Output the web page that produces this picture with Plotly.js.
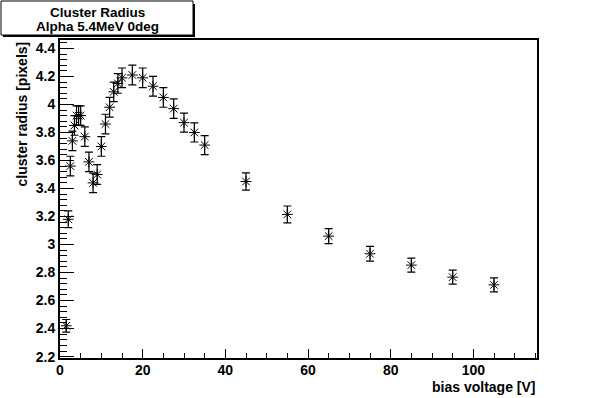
<!DOCTYPE html>
<html>
<head>
<meta charset="utf-8">
<script src="https://cdn.plot.ly/plotly-3.0.1.min.js"></script>
<style>html,body{margin:0;padding:0;background:#fff;}#chart{width:597px;height:398px;}</style>
</head>
<body>
<div id="chart"></div>
<script>
// bias voltage [V]
const biasVoltage = [1.5, 2, 2.5, 3, 3.5, 4, 4.5, 5, 6, 7, 8, 9, 10, 11, 12, 13, 14, 15, 17.5, 20, 22.5, 25, 27.5, 30, 32.5, 35, 45, 55, 65, 75, 85, 95, 105];
// cluster radius [pixels]
const clusterRadius = [2.42, 3.18, 3.56, 3.74, 3.85, 3.92, 3.92, 3.92, 3.77, 3.59, 3.44, 3.50, 3.70, 3.86, 3.98, 4.09, 4.15, 4.19, 4.21, 4.19, 4.13, 4.05, 3.97, 3.87, 3.80, 3.71, 3.45, 3.215, 3.06, 2.934, 2.853, 2.767, 2.712];
const radiusError = [0.045, 0.06, 0.07, 0.07, 0.07, 0.07, 0.07, 0.07, 0.07, 0.07, 0.07, 0.07, 0.07, 0.07, 0.07, 0.07, 0.07, 0.07, 0.07, 0.07, 0.07, 0.07, 0.07, 0.068, 0.068, 0.068, 0.062, 0.06, 0.053, 0.053, 0.05, 0.05, 0.05];
const titleLines = ["Cluster Radius", "Alpha 5.4MeV 0deg"];
const xTitle = "bias voltage [V]";
const yTitle = "cluster radius [pixels]";
const xTicks = [0, 20, 40, 60, 80, 100];
const yTicks = [2.2, 2.4, 2.6, 2.8, 3, 3.2, 3.4, 3.6, 3.8, 4, 4.2, 4.4];

const W = 597, H = 398;
const M = {l: 60, r: 60, t: 40, b: 40};
const PW = W - M.l - M.r, PH = H - M.t - M.b;
const px = x => (x - M.l) / PW;
const py = y => (H - M.b - y) / PH;

const font = {family: "Liberation Sans, Arial, sans-serif", color: "#000", size: 14, weight: "bold"};
const titleFont = Object.assign({}, font, {size: 13.5});

const trace = {
  x: biasVoltage,
  y: clusterRadius,
  type: "scatter",
  mode: "markers",
  marker: {symbol: "asterisk-open", size: 9, color: "#000", line: {color: "#000", width: 1}},
  error_y: {type: "data", array: radiusError, visible: true, color: "#000", thickness: 1.2, width: 4},
  showlegend: false,
  hoverinfo: "x+y"
};

const axisCommon = {
  showgrid: false, zeroline: false,
  showline: true, linecolor: "#000", linewidth: 2, mirror: true,
  ticks: "inside", tickcolor: "#000", tickwidth: 1,
  tickfont: font
};

const layout = {
  width: W, height: H,
  margin: M,
  paper_bgcolor: "#fff", plot_bgcolor: "#fff",
  font: font,
  xaxis: Object.assign({}, axisCommon, {
    range: [0, 115.4], tickvals: xTicks, ticktext: xTicks.map(String), ticklen: 9,
    ticklabelstandoff: -2,
    minor: {dtick: 5, tick0: 0, ticks: "inside", ticklen: 5, tickcolor: "#000", tickwidth: 1}
  }),
  yaxis: Object.assign({}, axisCommon, {
    range: [2.19, 4.46], tickvals: yTicks, ticktext: yTicks.map(v => String(v)), ticklen: 14,
    minor: {dtick: 0.04, tick0: 2.2, ticks: "inside", ticklen: 7, tickcolor: "#000", tickwidth: 1}
  }),
  shapes: [
    {type: "rect", xref: "paper", yref: "paper", x0: px(3), x1: px(195), y0: py(4), y1: py(37), line: {width: 0}, fillcolor: "#000", layer: "above"},
    {type: "rect", xref: "paper", yref: "paper", x0: px(1), x1: px(193), y0: py(1), y1: py(35), line: {color: "#000", width: 1}, fillcolor: "#fff", layer: "above"}
  ],
  annotations: [
    {xref: "paper", yref: "paper", x: px(97), y: py(13), text: titleLines[0], showarrow: false, xanchor: "center", yanchor: "middle", font: titleFont},
    {xref: "paper", yref: "paper", x: px(97), y: py(26), text: titleLines[1], showarrow: false, xanchor: "center", yanchor: "middle", font: titleFont},
    {xref: "paper", yref: "paper", x: px(21), y: 1, text: yTitle, textangle: -90, showarrow: false, xanchor: "center", yanchor: "top", font: font},
    {xref: "paper", yref: "paper", x: 1, y: py(386.5), text: xTitle, showarrow: false, xanchor: "right", yanchor: "middle", font: font}
  ]
};

Plotly.newPlot("chart", [trace], layout, {staticPlot: true, displayModeBar: false});
</script>
</body>
</html>
